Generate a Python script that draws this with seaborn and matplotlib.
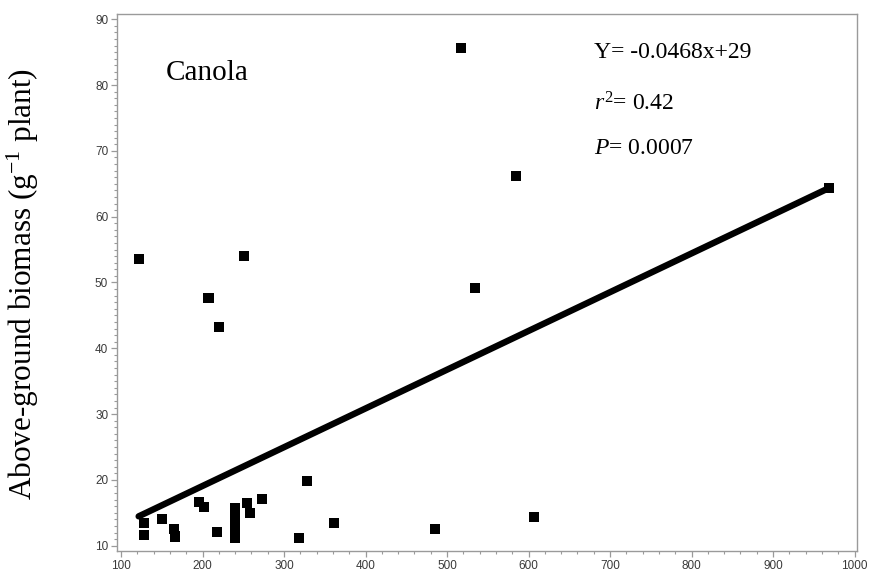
import numpy as np
import pandas as pd
import matplotlib
matplotlib.use("Agg")
import matplotlib.pyplot as plt
from matplotlib.ticker import MultipleLocator
import seaborn as sns

# Observations: x value and above-ground biomass per plant
x_vals = [121.6, 251.4, 207.3, 220.4, 517.7, 585.1, 534.4, 968.1,
          127.7, 127.7, 150.2, 164.4, 165.7, 195.1, 202.0, 217.6,
          240.0, 240.0, 240.0, 240.0, 240.0,
          254.3, 258.4, 273.5, 327.9, 318.8, 361.7, 485.0, 606.7]
biomass = [53.5, 54.0, 47.6, 43.2, 85.6, 66.2, 49.2, 64.3,
           13.5, 11.6, 14.1, 12.5, 11.4, 16.7, 15.9, 12.1,
           11.2, 12.4, 13.6, 14.7, 15.8,
           16.5, 14.9, 17.1, 19.9, 11.2, 13.5, 12.5, 14.3]

# Fitted line drawn across the observed x range
fit_slope = 0.0589
fit_intercept = 7.3

crop_name = "Canola"
stats_text = ["Y= -0.0468x+29", "$r^2$= 0.42", "$P$= 0.0007"]

sns.set_style("white")
plt.rcParams["text.color"] = "black"
plt.rcParams["axes.labelcolor"] = "black"
plt.rcParams["mathtext.fontset"] = "custom"
plt.rcParams["mathtext.rm"] = "Liberation Serif"
plt.rcParams["mathtext.it"] = "Liberation Serif:italic"

df = pd.DataFrame({"x": x_vals, "biomass": biomass})
fit_x = np.array([min(x_vals), max(x_vals)])
fit_df = pd.DataFrame({"x": fit_x, "y": fit_intercept + fit_slope * fit_x})

fig = plt.figure(figsize=(8.71, 5.79), dpi=100)
ax = fig.add_axes([0.1343, 0.0484, 0.8496, 0.9274])

sns.lineplot(data=fit_df, x="x", y="y", color="black", linewidth=4.6,
             ax=ax, zorder=2)
sns.scatterplot(data=df, x="x", y="biomass", marker="s", color="black",
                s=52, edgecolor="none", linewidth=0, ax=ax, zorder=3)

ax.set_xlim(95, 1003)
ax.set_ylim(9.2, 90.8)
ax.xaxis.set_major_locator(MultipleLocator(100))
ax.xaxis.set_minor_locator(MultipleLocator(20))
ax.yaxis.set_major_locator(MultipleLocator(10))
ax.yaxis.set_minor_locator(MultipleLocator(1))

gray = "#9a9a9a"
for sp in ax.spines.values():
    sp.set_color(gray)
    sp.set_linewidth(1.0)
ax.tick_params(which="major", direction="out", length=4.3, width=0.9,
               color=gray, labelsize=8.5, labelcolor="#3a3a3a", pad=2)
ax.tick_params(which="minor", direction="out", length=2.2, width=0.8,
               color=gray)
ax.tick_params(axis="x", which="both", bottom=True)
ax.tick_params(axis="y", which="both", left=True)
for lab in ax.get_xticklabels() + ax.get_yticklabels():
    lab.set_family("Liberation Sans")

ax.set_xlabel("")
ax.set_ylabel("Above-ground biomass (g$^{-1}$ plant)", family="Liberation Serif",
              fontsize=22.5, va="center")
ax.yaxis.set_label_coords(-0.127, 0.497)

ax.text(0.066, 0.89, crop_name, transform=ax.transAxes, family="Liberation Serif",
        fontsize=21, va="center", ha="left")
ax.text(0.645, 0.929, stats_text[0], transform=ax.transAxes,
        family="Liberation Serif", fontsize=17, va="center", ha="left")
ax.text(0.645, 0.832, stats_text[1], transform=ax.transAxes,
        family="Liberation Serif", fontsize=17, va="center", ha="left")
ax.text(0.645, 0.749, stats_text[2], transform=ax.transAxes,
        family="Liberation Serif", fontsize=17, va="center", ha="left")

fig.savefig("out.png", dpi=100)
